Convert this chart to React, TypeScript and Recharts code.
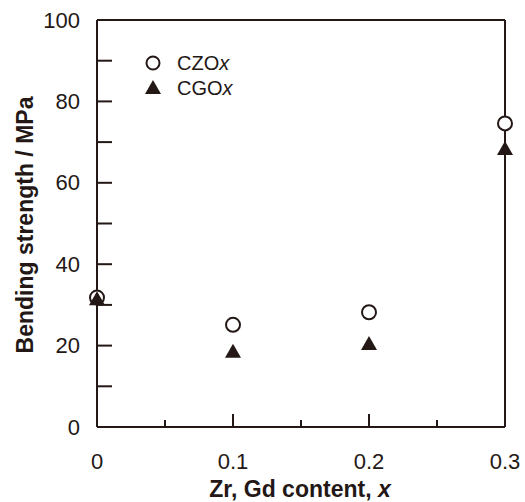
import { ScatterChart, Scatter, XAxis, YAxis } from "recharts";

const xValues = [0, 0.1, 0.2, 0.3];
const czoValues = [31.8, 25.1, 28.2, 74.6];
const cgoValues = [31.4, 18.5, 20.4, 68.3];
const xTicks = [0, 0.05, 0.1, 0.15, 0.2, 0.25, 0.3];
const yTicks = [0, 10, 20, 30, 40, 50, 60, 70, 80, 90, 100];

const czoData = xValues.map((x, i) => ({ x, y: czoValues[i] }));
const cgoData = xValues.map((x, i) => ({ x, y: cgoValues[i] }));

const INK = "#231815";
const FONT = "'Liberation Sans', Arial, sans-serif";

const isMajorX = (v: number) => Math.abs(Math.round(v * 10) - v * 10) < 1e-6;

// ticks point into the plot, so draw the line ourselves
const BottomTick = (props: any) => {
  const { x, y, payload } = props;
  const major = isMajorX(payload.value);
  return (
    <g>
      <line x1={x} x2={x} y1={y} y2={y - (major ? 13 : 7)} stroke={INK} strokeWidth={2} />
      {major && (
        <text x={x} y={y + 34} textAnchor="middle" dominantBaseline="central" fontSize={22} fill={INK} fontFamily={FONT}>
          {payload.value === 0 ? "0" : payload.value.toFixed(1)}
        </text>
      )}
    </g>
  );
};

const TopTick = (props: any) => {
  const { x, y, payload } = props;
  const major = isMajorX(payload.value);
  return <line x1={x} x2={x} y1={y} y2={y + (major ? 13 : 7)} stroke={INK} strokeWidth={2} />;
};

const LeftTick = (props: any) => {
  const { x, y, payload } = props;
  const major = payload.value % 20 === 0;
  return (
    <g>
      <line x1={x} x2={x + 15} y1={y} y2={y} stroke={INK} strokeWidth={2} />
      {major && (
        <text x={x - 17} y={y} textAnchor="end" dominantBaseline="central" fontSize={22} fill={INK} fontFamily={FONT}>
          {payload.value}
        </text>
      )}
    </g>
  );
};

const RightTick = (props: any) => {
  const { x, y } = props;
  return <line x1={x} x2={x - 15} y1={y} y2={y} stroke={INK} strokeWidth={2} />;
};

const OpenCircle = (props: any) => (
  <circle cx={props.cx} cy={props.cy} r={7} fill="#fff" stroke={INK} strokeWidth={2} />
);

const FilledTriangle = (props: any) => {
  const { cx, cy } = props;
  return <polygon points={`${cx},${cy - 8} ${cx + 8},${cy + 6} ${cx - 8},${cy + 6}`} fill={INK} />;
};

export default function App() {
  return (
    <div style={{ position: "absolute", left: 0, top: 0, width: 525, height: 502, background: "#fff" }}>
      <ScatterChart width={525} height={502} margin={{ top: 0, right: 0, bottom: 0, left: 0 }}>
        <XAxis
          xAxisId="bottom"
          type="number"
          dataKey="x"
          domain={[0, 0.3]}
          ticks={xTicks}
          orientation="bottom"
          height={75}
          tickSize={0}
          tickMargin={0}
          tick={<BottomTick />}
          axisLine={{ stroke: INK, strokeWidth: 2 }}
          tickLine={false}
          label={{
            value: "Zr, Gd content, x",
            content: () => (
              <text x={300} y={489} textAnchor="middle" dominantBaseline="central" fontSize={23} fontWeight="bold" fill={INK} fontFamily={FONT}>
                Zr, Gd content, <tspan fontStyle="italic">x</tspan>
              </text>
            ),
          }}
        />
        <XAxis
          xAxisId="top"
          type="number"
          dataKey="x"
          domain={[0, 0.3]}
          ticks={xTicks}
          orientation="top"
          height={20}
          tickSize={0}
          tickMargin={0}
          tick={<TopTick />}
          axisLine={{ stroke: INK, strokeWidth: 2 }}
          tickLine={false}
        />
        <YAxis
          yAxisId="left"
          type="number"
          dataKey="y"
          domain={[0, 100]}
          ticks={yTicks}
          width={97}
          tickSize={0}
          tickMargin={0}
          tick={<LeftTick />}
          axisLine={{ stroke: INK, strokeWidth: 2 }}
          tickLine={false}
          label={{
            value: "Bending strength / MPa",
            content: () => (
              <text x={25} y={225} transform="rotate(-90 25 225)" textAnchor="middle" dominantBaseline="central" fontSize={23} fontWeight="bold" fill={INK} fontFamily={FONT}>
                Bending strength / MPa
              </text>
            ),
          }}
        />
        <YAxis
          yAxisId="right"
          orientation="right"
          type="number"
          dataKey="y"
          domain={[0, 100]}
          ticks={yTicks}
          width={20}
          tickSize={0}
          tickMargin={0}
          tick={<RightTick />}
          axisLine={{ stroke: INK, strokeWidth: 2 }}
          tickLine={false}
        />
        <Scatter name="CZOx" data={czoData} xAxisId="bottom" yAxisId="left" shape={<OpenCircle />} isAnimationActive={false} />
        <Scatter name="CGOx" data={cgoData} xAxisId="bottom" yAxisId="left" shape={<FilledTriangle />} isAnimationActive={false} />
      </ScatterChart>
      {/* legend sits inside the plot, top left */}
      <svg width={120} height={50} style={{ position: "absolute", left: 140, top: 51 }}>
        <circle cx={13} cy={12} r={6.5} fill="#fff" stroke={INK} strokeWidth={2} />
        <text x={37} y={12} dominantBaseline="central" fontSize={20} fill={INK} fontFamily={FONT}>
          CZO<tspan fontStyle="italic">x</tspan>
        </text>
        <polygon points="13,29 21,43 5,43" fill={INK} />
        <text x={37} y={37} dominantBaseline="central" fontSize={20} fill={INK} fontFamily={FONT}>
          CGO<tspan fontStyle="italic">x</tspan>
        </text>
      </svg>
    </div>
  );
}
